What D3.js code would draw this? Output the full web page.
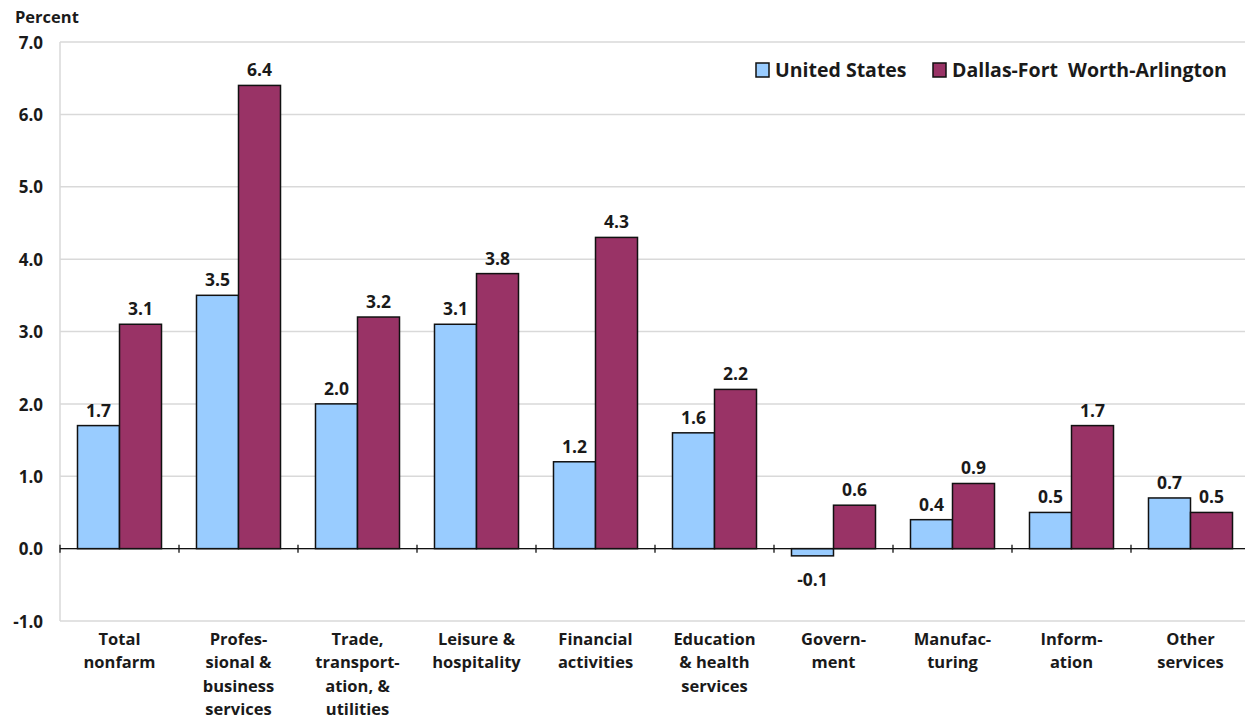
<!DOCTYPE html>
<html><head><meta charset="utf-8">
<script src="https://cdn.jsdelivr.net/npm/d3@7"></script>
<style>body{margin:0;background:#fff}svg{display:block}text{font-family:"Open Sans",Lato,sans-serif;font-weight:bold;fill:#1a1a1a}</style>
</head><body><svg id="c" width="1245" height="719"></svg>
<script>
const categories = [["Total","nonfarm"],["Profes-","sional &","business","services"],["Trade,","transport-","ation, &","utilities"],["Leisure &","hospitality"],["Financial","activities"],["Education","& health","services"],["Govern-","ment"],["Manufac-","turing"],["Inform-","ation"],["Other","services"]];
const seriesNames = ["United States","Dallas-Fort  Worth-Arlington"];
const usValues = [1.7,3.5,2.0,3.1,1.2,1.6,-0.1,0.4,0.5,0.7];
const dfwValues = [3.1,6.4,3.2,3.8,4.3,2.2,0.6,0.9,1.7,0.5];
const yTicks = [-1,0,1,2,3,4,5,6,7];
const colors = ["#99CCFF","#993366"];

const fmt = d => d.toFixed(1);
const svg = d3.select("#c");
const L=60,R=1250,T=42,B=621;
const x = d3.scaleBand().domain(d3.range(categories.length)).range([L,R]).padding(0);
const y = d3.scaleLinear().domain([-1,7]).range([B,T]);
const bw = x.bandwidth()*0.353, off = (x.bandwidth()-2*bw)/2;

// grid
svg.append("g").selectAll("line").data(yTicks).join("line")
 .attr("x1",L).attr("x2",R).attr("y1",d=>y(d)).attr("y2",d=>y(d))
 .attr("stroke","#d9d9d9").attr("stroke-width",1.5);
svg.append("line").attr("x1",L).attr("x2",L).attr("y1",T).attr("y2",B).attr("stroke","#d9d9d9").attr("stroke-width",1.5);

// y labels
const ya = d3.axisLeft(y).tickValues(yTicks).tickFormat(fmt).tickSize(0).tickPadding(17);
const yg = svg.append("g").attr("transform",`translate(${L},0)`).call(ya);
yg.select(".domain").remove();
yg.selectAll("text").style("font-size","17px").attr("fill","#1a1a1a").attr("dy","0.36em");

const data = [usValues,dfwValues];
data.forEach((vals,si)=>{
  svg.append("g").selectAll("rect").data(vals).join("rect")
   .attr("x",(d,i)=>x(i)+off+si*bw).attr("width",bw)
   .attr("y",d=>y(Math.max(0,d))).attr("height",d=>Math.abs(y(d)-y(0)))
   .attr("fill",colors[si]).attr("stroke","#111").attr("stroke-width",1.5);
  svg.append("g").selectAll("text").data(vals).join("text")
   .attr("x",(d,i)=>x(i)+off+si*bw+bw/2)
   .attr("y",d=>d>=0? y(d)-9 : y(d)+30)
   .attr("text-anchor","middle").style("font-size","17.5px")
   .text(fmt);
});

// zero axis
const zg = svg.append("g").attr("transform",`translate(0,${y(0)})`);
zg.append("line").attr("x1",L).attr("x2",R).attr("stroke","#111").attr("stroke-width",1.3);
zg.selectAll("line.t").data(d3.range(categories.length+1)).join("line").attr("class","t")
 .attr("x1",i=>L+i*x.step()).attr("x2",i=>L+i*x.step()).attr("y1",-4).attr("y2",4)
 .attr("stroke","#111").attr("stroke-width",1.3);

// category labels
const cg = svg.append("g").selectAll("text").data(categories).join("text")
 .attr("x",(d,i)=>x(i)+x.bandwidth()/2).attr("y",645).attr("text-anchor","middle").style("font-size","16.5px");
cg.selectAll("tspan").data(d=>d).join("tspan").attr("x",function(){return d3.select(this.parentNode).attr("x");})
 .attr("dy",(d,i)=>i?23.4:0).text(d=>d);

// title
svg.append("text").attr("x",15).attr("y",23).style("font-size"," 16.5px").text("Percent");

// legend
const lg = svg.append("g");
const lx=[756,933];
seriesNames.forEach((n,i)=>{
  lg.append("rect").attr("x",lx[i]).attr("y",63).attr("width",13).attr("height",14).attr("fill",colors[i]).attr("stroke","#111").attr("stroke-width",1.5);
  lg.append("text").attr("x",lx[i]+19).attr("y",77).style("font-size","19.5px").attr("xml:space","preserve").text(n);
});
</script></body></html>
